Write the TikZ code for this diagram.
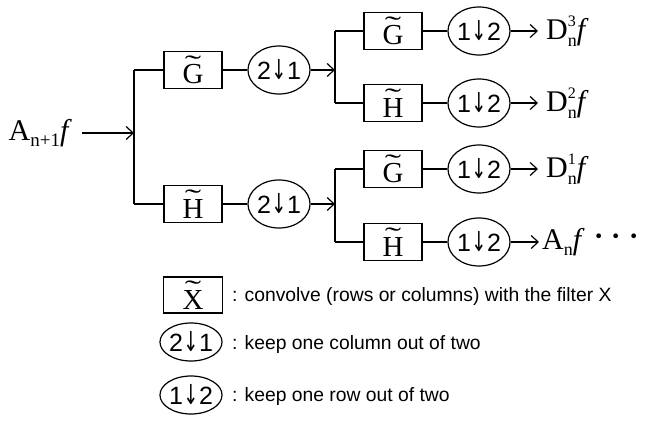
\documentclass[tikz,border=0pt]{standalone}
\usepackage{graphicx}
\usepackage{fontspec}
\setmainfont{Liberation Serif}
\newfontfamily\lsans{Liberation Sans}
\newfontfamily\djv{DejaVu Sans}
\usetikzlibrary{shapes.geometric,arrows.meta}

% letter with a wide tilde set above it
\newcommand{\tld}[1]{\setbox0\hbox{#1}%
  \rlap{\hbox to \wd0{\hss\raisebox{0.36em}{\scalebox{1.7}[0.9]{˜}}\hss}}\box0}
% downsampling symbol: digit, narrow down arrow, digit
\newcommand{\dn}[2]{#1\hspace{0.5pt}{\djv\scalebox{0.72}[1.1]{↓}}\hspace{0.5pt}#2}
% output label: capital with super- and subscript, then italic f
\newcommand{\outlbl}[3]{#1\rlap{\raisebox{1.0ex}{\fontsize{16}{16}\selectfont #2}}\raisebox{-0.45ex}{\fontsize{18}{18}\selectfont #3}\textit{f}}

\tikzset{
  wire/.style={line width=1.2pt},
  arr/.style={wire,-{Straight Barb[length=7pt,width=13pt,line width=1.2pt]}},
  filterbox/.style={draw,line width=1.2pt,minimum width=58pt,minimum height=37pt,
    inner sep=0pt,font=\fontsize{29}{31}\selectfont},
  downs/.style={ellipse,draw,line width=1.2pt,minimum width=53pt,minimum height=48pt,
    inner sep=0pt,font=\lsans\fontsize{25}{26}\selectfont},
  legcirc/.style={downs,minimum width=57pt,minimum height=38pt},
  outtext/.style={anchor=west,inner sep=0pt,font=\fontsize{30}{32}\selectfont},
  legtext/.style={anchor=west,inner sep=0pt,font=\lsans\fontsize{19.3}{22}\selectfont},
}

\begin{document}
\begin{tikzpicture}[x=1pt,y=-1pt]
\useasboundingbox (0,0) rectangle (648,425);

% input signal
\node[outtext,anchor=east] (inA) at (72,133)
  {A\raisebox{-0.45ex}{\fontsize{19}{19}\selectfont n+1}\textit{f}};
\coordinate (a0) at (82,133);

% first stage: column filtering
\coordinate (s1t) at (134,70);
\coordinate (s1m) at (134,133);
\coordinate (s1b) at (134,204);
\node[filterbox] (G1) at (193,70) {\tld{G}};
\node[filterbox] (H1) at (193,204) {\tld{H}};
\node[downs] (c1) at (279,70) {\dn{2}{1}};
\node[downs] (c2) at (279,204) {\dn{2}{1}};

% second stage: row filtering
\coordinate (s2t) at (335,31);
\coordinate (s2m) at (335,70);
\coordinate (s2b) at (335,103);
\coordinate (s3t) at (335,169);
\coordinate (s3m) at (335,204);
\coordinate (s3b) at (335,242);
\node[filterbox] (G2) at (393,31) {\tld{G}};
\node[filterbox] (H2) at (393,103) {\tld{H}};
\node[filterbox] (G3) at (393,169) {\tld{G}};
\node[filterbox] (H3) at (393,242) {\tld{H}};
\node[downs] (d1) at (479,31) {\dn{1}{2}};
\node[downs] (d2) at (479,103) {\dn{1}{2}};
\node[downs] (d3) at (479,169) {\dn{1}{2}};
\node[downs] (d4) at (479,242) {\dn{1}{2}};

% outputs
\node[outtext] (o1) at (546,31) {\outlbl{D}{3}{n}};
\node[outtext] (o2) at (546,103) {\outlbl{D}{2}{n}};
\node[outtext] (o3) at (546,169) {\outlbl{D}{1}{n}};
\node[outtext] (o4) at (542,242) {A\raisebox{-0.45ex}{\fontsize{18}{18}\selectfont n}\textit{f}\hspace{8pt}{\fontsize{40}{40}\selectfont ·\hspace{4pt}·\hspace{4pt}·}};

% connectors
\draw[arr] (a0) -- (s1m);
\draw[wire] (s1t) -- (s1b);
\draw[wire] (s1t) -- (G1);
\draw[wire] (s1b) -- (H1);
\draw[wire] (G1) -- (c1);
\draw[wire] (H1) -- (c2);
\draw[arr] (c1) -- (s2m);
\draw[arr] (c2) -- (s3m);
\draw[wire] (s2t) -- (s2b);
\draw[wire] (s3t) -- (s3b);
\draw[wire] (s2t) -- (G2);
\draw[wire] (s2b) -- (H2);
\draw[wire] (s3t) -- (G3);
\draw[wire] (s3b) -- (H3);
\draw[wire] (G2) -- (d1);
\draw[wire] (H2) -- (d2);
\draw[wire] (G3) -- (d3);
\draw[wire] (H3) -- (d4);
\draw[arr,shorten >=8pt] (d1) -- (o1.west |- d1);
\draw[arr,shorten >=8pt] (d2) -- (o2.west |- d2);
\draw[arr,shorten >=8pt] (d3) -- (o3.west |- d3);
\draw[arr,shorten >=3pt] (d4) -- (o4.west |- d4);

% legend
\node[filterbox,minimum width=59pt,minimum height=36pt] (lx) at (193,295) {\tld{X}};
\node[legtext] (lxt) at (232,297) {: convolve (rows or columns) with the filter X};
\node[legcirc] (l21) at (191,342) {\dn{2}{1}};
\node[legtext] (l21t) at (232,345) {: keep one column out of two};
\node[legcirc] (l12) at (191,395) {\dn{1}{2}};
\node[legtext] (l12t) at (232,397) {: keep one row out of two};
\end{tikzpicture}
\end{document}
